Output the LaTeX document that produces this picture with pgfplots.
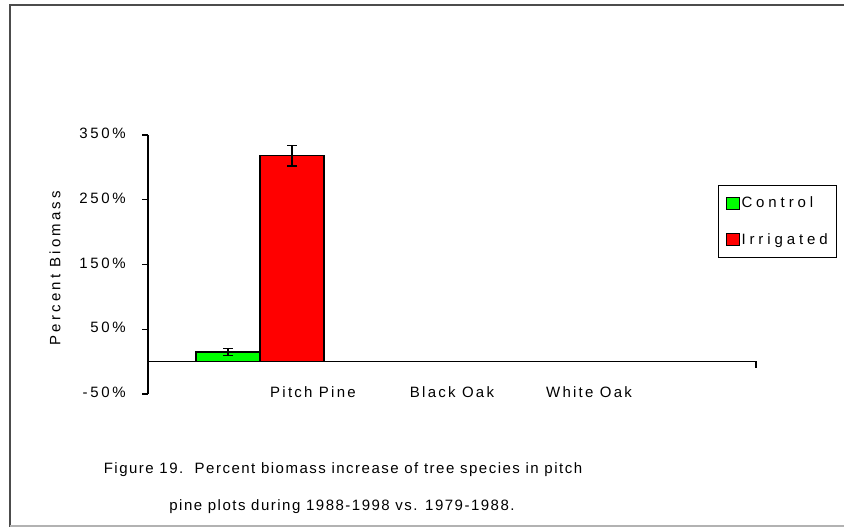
\documentclass[border=0pt]{standalone}
\usepackage{fontspec}
\setmainfont{Liberation Sans}
\usepackage{pgfplots}
\pgfplotsset{compat=1.18}
\newfontfamily\tickfont[LetterSpace=18]{Liberation Sans}
\newfontfamily\legfont[LetterSpace=26]{Liberation Sans}
\newfontfamily\capfont[LetterSpace=10]{Liberation Sans}
\newfontfamily\catfont[LetterSpace=15]{Liberation Sans}
\newfontfamily\ylabfont[LetterSpace=21]{Liberation Sans}
\newcommand\fs{\fontsize{15bp}{17bp}}
\begin{document}
\begin{tikzpicture}[x=1bp,y=1bp]
\useasboundingbox (0,0) rectangle (844,527);
% outer frame
\draw[black!70, line width=1.6bp] (10,0) -- (10,522) -- (844,522);
\draw[black!30, line width=1.2bp] (10,1) -- (844,1);
\begin{axis}[
  at={(148bp,133bp)}, anchor=south west,
  scale only axis, width=608bp, height=259bp,
  xmin=148, xmax=756, ymin=-50, ymax=350,
  axis lines*=left,
  x axis line style={draw=none},
  y axis line style={black, line width=1.2bp},
  xtick style={draw=none},
  xtick={313,452,589},
  xticklabels={Pitch Pine, Black Oak, White Oak},
  xticklabel style={font=\fs\catfont, anchor=base, inner sep=0pt, yshift=2bp},
  ytick={-50,50,150,250,350},
  yticklabels={-50\%,50\%,150\%,250\%,350\%},
  yticklabel style={font=\fs\tickfont, anchor=east, inner sep=0pt, xshift=-16bp, yshift=1.5bp},
  tick align=outside,
  major tick length=6bp,
  ytick style={black, line width=1.2bp},
  ybar, bar width=64, /pgf/bar shift=0pt,
  clip=false,
  legend style={at={(0.9375,0.807)}, anchor=north west, draw=black, line width=1bp,
    font=\fs\legfont, inner xsep=7bp, inner ysep=9.5bp,
    row sep=20bp, legend cell align=left},
  legend image code/.code={\draw[#1, draw=black, line width=1bp] (0bp,-6bp) rectangle (13bp,6bp);},
]
\addplot[fill={rgb,255:red,0;green,255;blue,0}, draw=black, line width=1.2bp,
  error bars/.cd, y dir=both, y explicit,
  error bar style={black, line width=1.2bp},
  error mark options={rotate=90, mark size=5bp, black, line width=1.2bp}]
  coordinates {(228,15) +- (0,5)};
\addlegendentry{Control}
\addplot[fill={rgb,255:red,255;green,0;blue,0}, draw=black, line width=1.2bp,
  error bars/.cd, y dir=both, y explicit,
  error bar style={black, line width=1.2bp},
  error mark options={rotate=90, mark size=5bp, black, line width=1.2bp}]
  coordinates {(292,318) +- (0,16)};
\addlegendentry{Irrigated}
\addplot[sharp plot, black, line width=1.2bp, forget plot] coordinates {(148,0) (756,0) (756,-9.3)};
\end{axis}
\node[rotate=90, font=\fs\ylabfont] at (55,259) {Percent Biomass};
\node[font=\fs\capfont] at (343,57) {Figure 19.\ \ Percent biomass increase of tree species in pitch};
\node[font=\fs\capfont] at (342,20) {pine plots during 1988-1998 vs. 1979-1988.};
\end{tikzpicture}
\end{document}
